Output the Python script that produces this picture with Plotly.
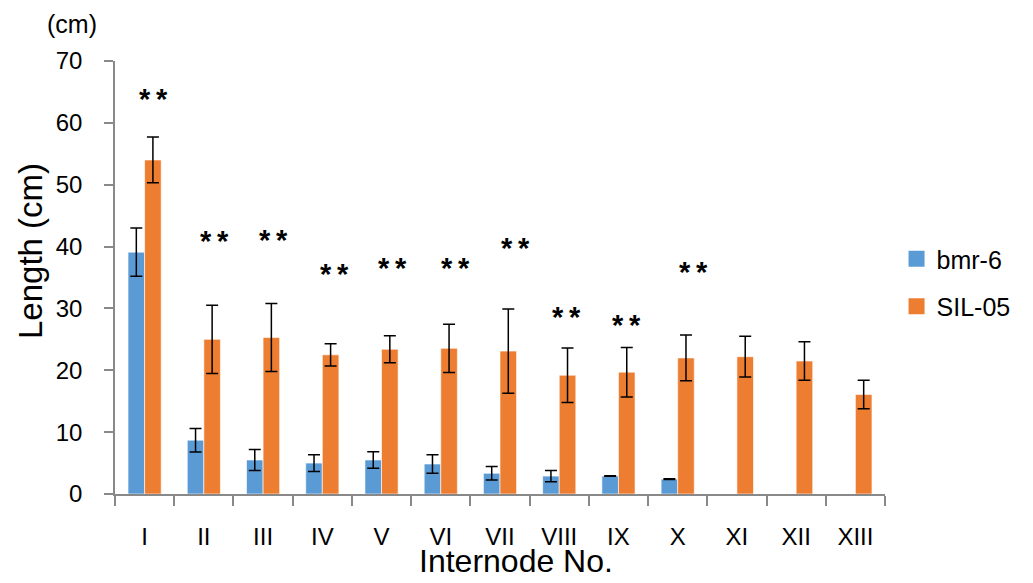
import plotly.graph_objects as go

categories = ["I", "II", "III", "IV", "V", "VI", "VII", "VIII", "IX", "X", "XI", "XII", "XIII"]
bmr6 = [39.1, 8.7, 5.5, 5.0, 5.5, 4.85, 3.35, 2.9, 2.9, 2.4, None, None, None]
bmr6_err = [3.9, 1.9, 1.7, 1.35, 1.35, 1.5, 1.1, 0.9, 0.05, 0.05, None, None, None]
sil05 = [54.0, 25.0, 25.3, 22.5, 23.4, 23.55, 23.1, 19.2, 19.7, 22.0, 22.2, 21.5, 16.1]
sil05_err = [3.7, 5.5, 5.5, 1.8, 2.2, 3.9, 6.8, 4.4, 4.0, 3.7, 3.3, 3.1, 2.3]
star_y = [64.7, 41.7, 41.8, 36.3, 37.4, 37.4, 40.5, 29.4, 28.1, 36.7]
star_xshift = [9, 10.7, 10.3, 12, 10.7, 14.3, 15, 7.7, 8.3, 16]

BLUE = "#5B9BD5"
ORANGE = "#ED7D31"
FONT = "Liberation Sans, Arial, sans-serif"

# plot area in screen pixels (page body has an 8px margin)
PL, PR, PT, PB = 115, 885, 61, 494
PW, PH = PR - PL, PB - PT

fig = go.Figure()
fig.add_trace(go.Bar(
    x=categories, y=bmr6, name="bmr-6", showlegend=False,
    marker=dict(color=BLUE, line=dict(color="rgba(255,255,255,0.6)", width=1)),
    error_y=dict(type="data", array=bmr6_err, color="black", thickness=1.5, width=6),
))
fig.add_trace(go.Bar(
    x=categories, y=sil05, name="SIL-05", showlegend=False,
    marker=dict(color=ORANGE, line=dict(color="rgba(255,255,255,0.6)", width=1)),
    error_y=dict(type="data", array=sil05_err, color="black", thickness=1.5, width=6),
))
# legend entries
fig.add_trace(go.Scatter(x=[None], y=[None], mode="markers", name="bmr-6", legendgroup="a",
                         marker=dict(symbol="square", size=16, color=BLUE)))
fig.add_trace(go.Scatter(x=[None], y=[None], mode="markers", name="SIL-05", legendgroup="b",
                         marker=dict(symbol="square", size=16, color=ORANGE)))

annotations = []
for i, (yv, xs) in enumerate(zip(star_y, star_xshift)):
    annotations.append(dict(x=categories[i], y=yv, xref="x", yref="y", text="<b>*\u2009*</b>",
                            showarrow=False, xshift=xs, yshift=-5,
                            font=dict(size=29, color="black", family=FONT)))
annotations.append(dict(x=-(PL - 71.5) / PW, y=(PB - 24) / PH, xref="paper", yref="paper",
                        text="(cm)", showarrow=False, xanchor="center", yanchor="middle",
                        font=dict(size=25, color="black", family=FONT)))
annotations.append(dict(x=(516 - PL) / PW, y=-(561 - PB) / PH, xref="paper", yref="paper",
                        text="Internode No.", showarrow=False, xanchor="center", yanchor="middle",
                        font=dict(size=32, color="black", family=FONT)))
annotations.append(dict(x=-(PL - 30) / PW, y=(PB - 251) / PH, xref="paper", yref="paper",
                        text="Length (cm)", showarrow=False, textangle=-90, xanchor="center",
                        yanchor="middle", font=dict(size=33, color="black", family=FONT)))

fig.update_layout(
    width=1033, height=583,
    margin=dict(l=PL - 8, r=1033 - PR + 8, t=PT - 8, b=583 - PB + 8, autoexpand=False),
    plot_bgcolor="white", paper_bgcolor="white",
    barmode="group", bargap=0.44, bargroupgap=0.0,
    font=dict(family=FONT, color="black"),
    legend=dict(x=1.015, y=(PB - 236) / PH, xanchor="left", yanchor="top",
                font=dict(size=25, family=FONT), tracegroupgap=12, itemwidth=30,
                bgcolor="rgba(0,0,0,0)"),
    annotations=annotations,
    xaxis=dict(showline=True, linecolor="#898989", linewidth=1.5, ticks="outside", ticklen=10,
               tickcolor="#898989", tickwidth=1.5, tickson="boundaries", showgrid=False,
               tickfont=dict(size=24, family=FONT), ticklabelstandoff=20, automargin=False),
    yaxis=dict(range=[0, 70], dtick=10, showline=True, linecolor="#898989", linewidth=1.5,
               ticks="outside", ticklen=9, tickcolor="#898989", tickwidth=1.5, showgrid=False,
               zeroline=False, tickfont=dict(size=24, family=FONT), ticklabelstandoff=17,
               automargin=False),
)

fig.write_html("out.html")
